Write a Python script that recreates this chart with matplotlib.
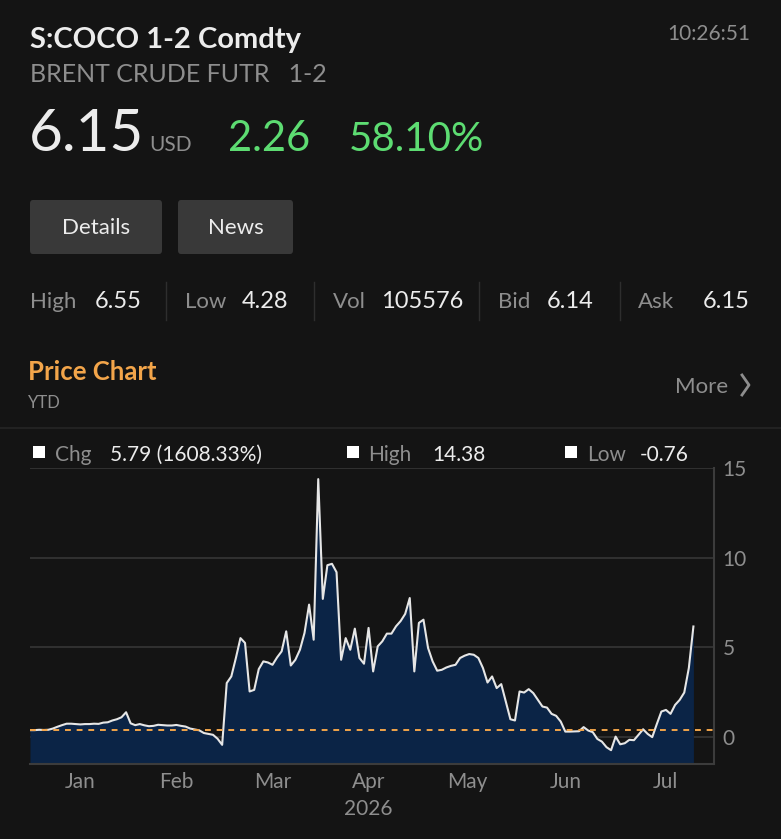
import matplotlib
matplotlib.use('Agg')
import matplotlib.pyplot as plt
import matplotlib.patches as mpatches
from matplotlib.lines import Line2D
import numpy as np

# spread values, one per trading day (YTD)
spread = [
    0.36, 0.36, 0.38, 0.37, 0.38, 0.45, 0.55, 0.64, 0.72, 0.72,
    0.70, 0.68, 0.70, 0.70, 0.72, 0.71, 0.78, 0.80, 0.90, 0.97,
    1.08, 1.36, 0.74, 0.64, 0.70, 0.63, 0.58, 0.60, 0.66, 0.64,
    0.62, 0.62, 0.65, 0.60, 0.56, 0.45, 0.40, 0.35, 0.20, 0.15,
    0.10, -0.12, -0.46, 2.99, 3.36, 4.39, 5.50, 5.23, 2.52, 2.61,
    3.77, 4.20, 4.14, 4.01, 4.42, 4.76, 5.88, 3.97, 4.29, 4.85,
    5.79, 7.37, 5.41, 14.38, 7.69, 9.57, 9.65, 9.18, 4.29, 5.50,
    4.85, 6.03, 4.39, 4.07, 6.07, 3.64, 5.04, 5.32, 5.75, 5.75,
    6.16, 6.45, 6.85, 7.74, 3.64, 6.35, 6.53, 4.95, 4.20, 3.68,
    3.73, 3.86, 3.95, 4.01, 4.39, 4.52, 4.61, 4.57, 4.39, 3.83,
    3.02, 3.36, 2.71, 2.93, 1.96, 0.97, 0.90, 2.52, 2.46, 2.65,
    2.43, 2.05, 1.68, 1.62, 1.27, 1.16, 0.84, 0.28, 0.28, 0.29,
    0.30, 0.53, 0.34, 0.25, -0.13, -0.28, -0.59, -0.76, 0.00, -0.43,
    -0.37, -0.18, -0.20, 0.10, 0.41, 0.15, -0.03, 0.70, 1.40, 1.49,
    1.27, 1.77, 2.05, 2.46, 3.83, 6.15,
]
month_labels = ['Jan', 'Feb', 'Mar', 'Apr\n2026', 'May', 'Jun', 'Jul']
month_pos = [11, 32, 53, 74, 95.5, 117, 139]
y_ticks = [0, 5, 10, 15]

stats_names = ['High', 'Low', 'Vol', 'Bid', 'Ask']
stats_values = ['6.55', '4.28', '105576', '6.14', '6.15']

BG = '#141414'
GREY = '#8e8e8e'
WHITE = '#ececec'
GREEN = '#5ddc72'
ORANGE = '#f3a54a'
NAVY = '#0b2446'

plt.rcParams['font.family'] = ['Lato', 'DejaVu Sans']

W, H = 781, 839
fig = plt.figure(figsize=(W / 100, H / 100), dpi=100, facecolor=BG)


def px(x, y):
    """ pixel (top-left origin) to figure fraction"""
    return x / W, 1 - y / H


def txt(x, y, s, size, color, ha='left', weight='normal', va='baseline'):
    fx, fy = px(x, y)
    fig.text(fx, fy, s, fontsize=size, color=color, ha=ha, va=va,
             fontweight=weight)


# header
txt(30, 48, 'S:COCO 1-2 Comdty', 21, WHITE, weight='bold')
txt(750, 40, '10:26:51', 15, GREY, ha='right')
txt(30, 82, 'BRENT CRUDE FUTR   1-2', 18, GREY)
txt(29, 151, '6.15', 42, WHITE)
txt(149, 151, 'USD', 15, GREY)
txt(228, 151, '2.26', 30, GREEN)
txt(349, 151, '58.10%', 29, GREEN)

# buttons
for x0, x1, label in [(30, 162, 'Details'), (178, 293, 'News')]:
    fx0, fy0 = px(x0, 254)
    fx1, fy1 = px(x1, 200)
    fig.patches.append(mpatches.FancyBboxPatch(
        (fx0, fy0), fx1 - fx0, fy1 - fy0, transform=fig.transFigure,
        boxstyle='round,pad=0,rounding_size=0.004', facecolor='#393939',
        edgecolor='none'))
    txt((x0 + x1) / 2, 234, label, 16, WHITE, ha='center')

# stats row
name_x = [30, 185, 333, 498, 638]
val_x = [95, 242, 381, 547, 750]
for j, (name, val) in enumerate(zip(stats_names, stats_values)):
    txt(name_x[j], 308, name, 16, GREY)
    if j == len(stats_names) - 1:
        txt(val_x[j], 308, val, 17, WHITE, ha='right')
    else:
        txt(val_x[j], 308, val, 17, WHITE)
for sx in [166, 314, 479, 620]:
    fx, fy0 = px(sx, 320)
    _, fy1 = px(sx, 282)
    fig.lines.append(Line2D([fx, fx], [fy0, fy1], transform=fig.transFigure,
                            color='#2e2e2e', lw=1))

# price chart heading
txt(28, 380, 'Price Chart', 18.5, ORANGE, weight='bold')
txt(28, 408, 'YTD', 12, GREY)
txt(728, 393, 'More', 16, GREY, ha='right')
cx, cy = 742, 385
fig.lines.append(Line2D([px(cx, 0)[0], px(cx + 7, 0)[0], px(cx, 0)[0]],
                        [px(0, cy - 10)[1], px(0, cy)[1], px(0, cy + 10)[1]],
                        transform=fig.transFigure, color=GREY, lw=2))
fig.lines.append(Line2D([0, 1], [px(0, 428)[1]] * 2, transform=fig.transFigure,
                        color='#222222', lw=1.5))

# legend row
legend_items = [(33, 'Chg', '5.79 (1608.33%)', 55, 110),
                (347, 'High', '14.38', 368, 432),
                (565, 'Low', '-0.76', 587, 640)]
for sq_x, name, val, nx, vx in legend_items:
    fx0, fy0 = px(sq_x, 458)
    fig.patches.append(mpatches.Rectangle((fx0, fy0), 12 / W, 12 / H,
                                          transform=fig.transFigure,
                                          facecolor='white', edgecolor='none'))
    txt(nx, 461, name, 15, GREY)
    txt(vx, 461, val, 15, WHITE)

# chart
x = np.arange(len(spread))
l, r, t, b = 30, 714, 468, 764
ax = fig.add_axes([l / W, 1 - b / H, (r - l) / W, (b - t) / H])
ax.set_facecolor(BG)
ymin = -1.53
ax.set_ylim(ymin, 15)
ax.set_xlim(0, 149.5)
for yv in y_ticks:
    ax.axhline(yv, color='#363636', lw=1.2, zorder=1)
ax.fill_between(x, spread, ymin, color=NAVY, lw=0, zorder=2)
ax.plot(x, spread, color='#e6e6e6', lw=1.5, zorder=3)
ax.axhline(spread[0], color=ORANGE, lw=1.4, ls=(0, (3, 3)), zorder=4)

ax.yaxis.tick_right()
ax.set_yticks(y_ticks)
ax.set_yticklabels([str(v) for v in y_ticks])
ax.tick_params(axis='y', length=0, pad=6, labelsize=15, labelcolor=GREY)
ax.set_xticks(month_pos)
ax.set_xticklabels(month_labels, linespacing=1.4)
ax.tick_params(axis='x', length=0, pad=6, labelsize=15, labelcolor=GREY)
for side in ['top', 'left']:
    ax.spines[side].set_visible(False)
for side in ['right', 'bottom']:
    ax.spines[side].set_color('#3c3c3c')
    ax.spines[side].set_linewidth(1.5)

fig.savefig('out.png', dpi=100, facecolor=BG)
